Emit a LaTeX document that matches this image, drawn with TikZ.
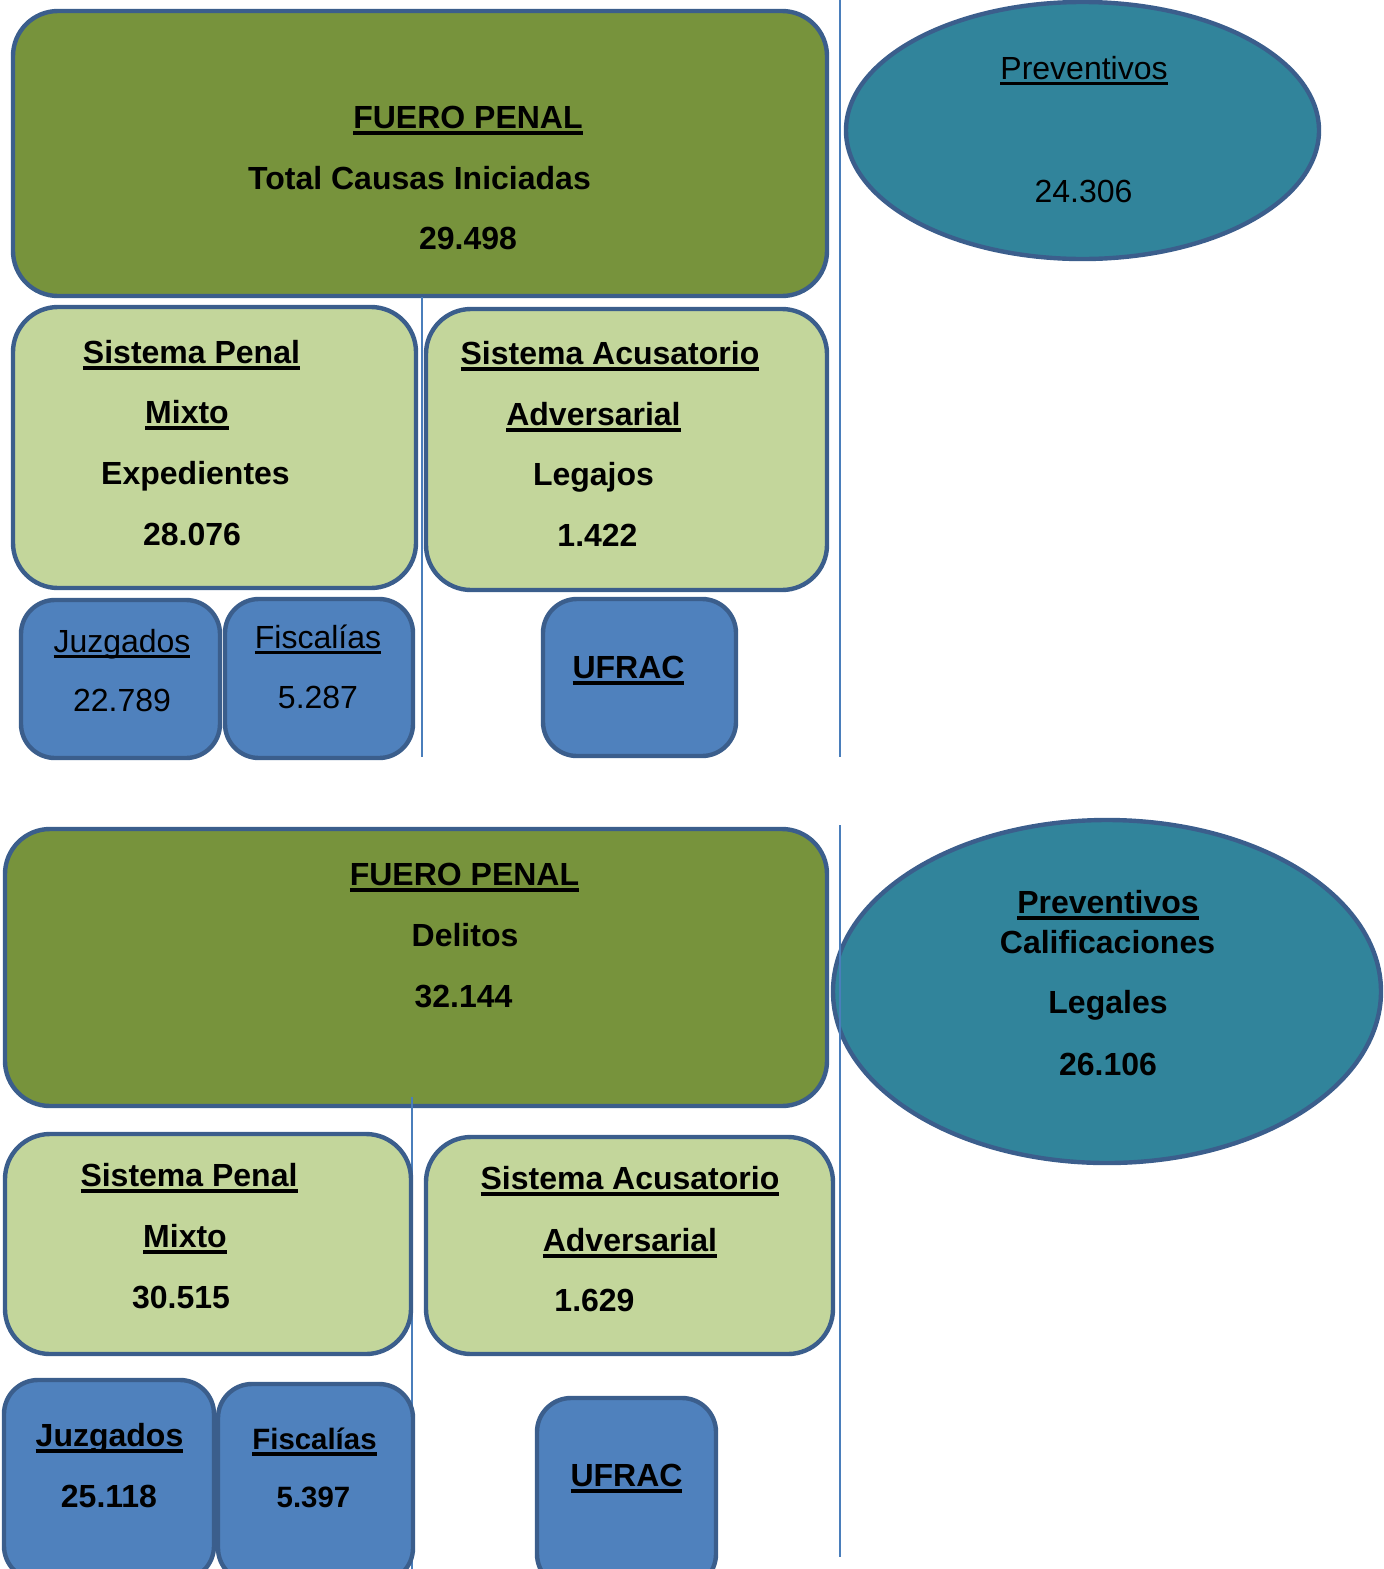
\documentclass[tikz,border=0pt]{standalone}
\usepackage{fontspec}
\setmainfont{Liberation Sans}
\usepackage{tikz}
\usetikzlibrary{fit, shapes.geometric}

\definecolor{verdeosc}{HTML}{77933C}
\definecolor{verdecla}{HTML}{C3D69B}
\definecolor{azul}{HTML}{4F81BD}
\definecolor{petroleo}{HTML}{31849B}
\definecolor{borde}{HTML}{3B5E8C}
\definecolor{linea}{HTML}{4A7EBB}

% subrayado grueso (negrita) y fino (normal)
\newcommand{\subrayB}[1]{\setbox0\hbox{#1}\rlap{\rule[-3.4pt]{\wd0}{1.8pt}}\box0}
\newcommand{\subrayR}[1]{\setbox0\hbox{#1}\rlap{\rule[-2.8pt]{\wd0}{1.1pt}}\box0}

\begin{document}
\begin{tikzpicture}[
    x=0.5pt, y=-0.5pt,
    caja/.style={draw=borde, line width=2.2pt, rounded corners=22.5pt, inner sep=0pt},
    fuero/.style={caja, fill=verdeosc},
    sistema/.style={caja, fill=verdecla},
    oficina/.style={caja, fill=azul, rounded corners=17pt},
    prev/.style={ellipse, draw=borde, line width=2.2pt, fill=petroleo, inner sep=0pt},
    txt/.style={anchor=base, inner sep=0pt, font=\fontsize{16}{19}\selectfont},
    txtb/.style={anchor=base, inner sep=0pt, font=\fontsize{16}{19}\selectfont\bfseries},
    sep/.style={draw=linea, line width=0.8pt}
]
\useasboundingbox (0,0) rectangle (1383,1569);
\clip (0,0) rectangle (1383,1569);

% ---- bloque superior: causas iniciadas
\node[fuero, fit={(13,11) (827,296)}] (fp1) {};
\node[prev, minimum width=236.5pt, minimum height=128.5pt] (pv1) at (1082.5,130.5) {};
\draw[sep] (840,0) -- (840,757);
\draw[sep] (422,297) -- (422,757);
\node[sistema, fit={(13,307) (416,588)}] (spm1) {};
\node[sistema, fit={(426,309) (827,590)}] (saa1) {};
\node[oficina, fit={(21,600) (220,758)}] (juz1) {};
\node[oficina, fit={(225,599) (413,758)}] (fis1) {};
\node[oficina, fit={(543,599) (736,756)}] (ufr1) {};

\node[txtb] (fp1-a) at (468,128) {\subrayB{FUERO PENAL}};
\node[txtb] (fp1-b) at (419.5,189) {Total Causas Iniciadas};
\node[txtb] (fp1-c) at (468,249.5) {29.498};
\node[txt] (pv1-a) at (1084,79) {\subrayR{Preventivos}};
\node[txt] (pv1-b) at (1083.5,202) {24.306};
\node[txtb] (spm1-a) at (191.5,363) {\subrayB{Sistema Penal}};
\node[txtb] (spm1-b) at (187,423) {\subrayB{Mixto}};
\node[txtb] (spm1-c) at (195.5,484) {Expedientes};
\node[txtb] (spm1-d) at (192,545) {28.076};
\node[txtb] (saa1-a) at (610,364) {\subrayB{Sistema Acusatorio}};
\node[txtb] (saa1-b) at (593.5,425) {\subrayB{Adversarial}};
\node[txtb] (saa1-c) at (593.5,485) {Legajos};
\node[txtb] (saa1-d) at (597.5,546) {1.422};
\node[txt] (juz1-a) at (122,652) {\subrayR{Juzgados}};
\node[txt] (juz1-b) at (122,711) {22.789};
\node[txt] (fis1-a) at (318,648) {\subrayR{Fiscalías}};
\node[txt] (fis1-b) at (318,708) {5.287};
\node[txtb] (ufr1-a) at (628.5,678) {\subrayB{UFRAC}};

% ---- bloque inferior: delitos
\node[fuero, fit={(5,829) (827,1106)}] (fp2) {};
\node[prev, minimum width=274pt, minimum height=171.5pt] (pv2) at (1107,991.5) {};
\draw[sep] (840,825) -- (840,1557);
\draw[sep] (412,1097) -- (412,1569);
\node[sistema, fit={(5,1134) (411,1354)}] (spm2) {};
\node[sistema, fit={(426,1137) (833,1354)}] (saa2) {};
\node[oficina, fit={(4,1380) (214,1580)}] (juz2) {};
\node[oficina, fit={(218,1384) (413,1582)}] (fis2) {};
\node[oficina, fit={(537,1398) (716,1588)}] (ufr2) {};

\node[txtb] (fp2-a) at (464.5,885) {\subrayB{FUERO PENAL}};
\node[txtb] (fp2-b) at (465,946) {Delitos};
\node[txtb] (fp2-c) at (463.5,1007) {32.144};
\node[txtb] (pv2-a) at (1108,913) {\subrayB{Preventivos}};
\node[txtb] (pv2-b) at (1107.5,953) {Calificaciones};
\node[txtb] (pv2-c) at (1108,1013) {Legales};
\node[txtb] (pv2-d) at (1108,1075) {26.106};
\node[txtb] (spm2-a) at (189,1186) {\subrayB{Sistema Penal}};
\node[txtb] (spm2-b) at (185,1247) {\subrayB{Mixto}};
\node[txtb] (spm2-c) at (181,1308) {30.515};
\node[txtb] (saa2-a) at (630,1189) {\subrayB{Sistema Acusatorio}};
\node[txtb] (saa2-b) at (630,1251) {\subrayB{Adversarial}};
\node[txtb] (saa2-c) at (594.5,1311) {1.629};
\node[txtb] (juz2-a) at (109.5,1446) {\subrayB{Juzgados}};
\node[txtb] (juz2-b) at (109,1507) {25.118};
\node[txtb, font=\fontsize{14.7}{17}\selectfont\bfseries] (fis2-a) at (314.5,1449) {\subrayB{Fiscalías}};
\node[txtb, font=\fontsize{14.7}{17}\selectfont\bfseries] (fis2-b) at (313.5,1507) {5.397};
\node[txtb] (ufr2-a) at (626.5,1486) {\subrayB{UFRAC}};
\end{tikzpicture}
\end{document}
